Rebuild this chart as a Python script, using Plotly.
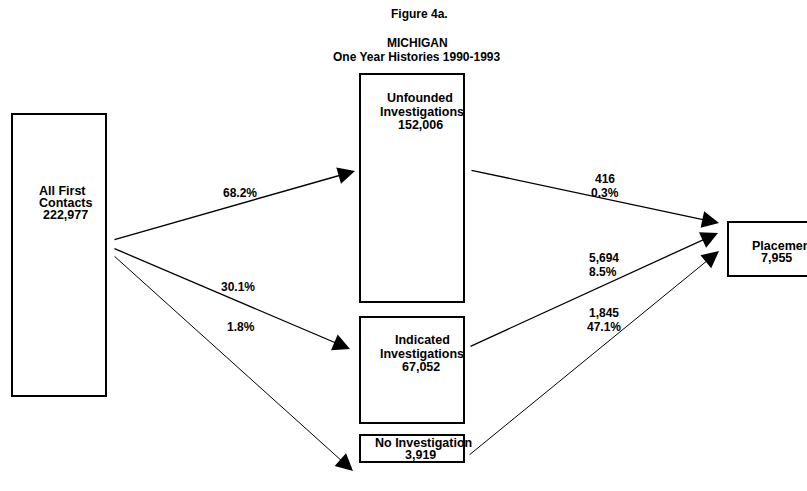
import plotly.graph_objects as go

# ---- data ----
node_names = ["All First Contacts", "Unfounded Investigations", "Indicated Investigations",
              "No Investigation", "Placement"]
node_counts = ["222,977", "152,006", "67,052", "3,919", "7,955"]
flow_pct_from_contacts = ["68.2%", "30.1%", "1.8%"]
flow_counts_to_placement = ["416", "5,694", "1,845"]
flow_pct_to_placement = ["0.3%", "8.5%", "47.1%"]

# ---- layout (pixel-like coordinates) ----
W, H = 807, 491
boxes = [(12, 114, 106, 396), (360, 74, 464, 302), (360, 317, 464, 423),
         (360, 435, 464, 462), (728, 222, 840, 276)]
node_lines = [
    (["All First", "Contacts"], [(62, 191), (66, 203)], (65, 215)),
    (["Unfounded", "Investigations"], [(420, 98), (422, 112)], (420, 125)),
    (["Indicated", "Investigations"], [(422, 340), (422, 354)], (421, 367)),
    (["No Investigation"], [(423, 443)], (420, 455)),
    (["Placement"], [(783, 246)], (776, 258)),
]
arrows_left = [((113, 240), (355, 171), 1.4), ((113, 248), (350, 349), 1.3), ((113, 255), (353, 471), 1.0)]
arrows_right = [((470, 170), (719, 223), 1.3), ((469, 347), (718, 233), 1.3), ((468, 456), (719, 251), 1.0)]
pct_left_pos = [(240, 193), (238, 287), (241, 327)]
right_lbl_pos = [((605, 179), (605, 193)), ((604, 258), (603, 272)), ((604, 313), (604, 327))]

FONT = dict(family="Arial, Liberation Sans, sans-serif", size=12, color="black", weight="bold")

fig = go.Figure()
fig.add_trace(go.Scatter(x=[0, W], y=[0, H], mode="markers", marker=dict(opacity=0),
                         hoverinfo="skip", showlegend=False))

for (x0, y0, x1, y1) in boxes:
    fig.add_shape(type="rect", x0=x0, y0=y0, x1=x1, y1=y1, xref="x", yref="y",
                  line=dict(color="black", width=2), fillcolor="rgba(0,0,0,0)")

def txt(x, y, s, size=12):
    f = dict(FONT)
    f["size"] = size
    fig.add_annotation(x=x, y=y, xref="x", yref="y", text=s, showarrow=False,
                       font=f, xanchor="center", yanchor="middle")

for i, (lines, pos, cpos) in enumerate(node_lines):
    for s, (x, y) in zip(lines, pos):
        txt(x, y, s, 12.5)
    txt(cpos[0], cpos[1], node_counts[i], 12.5)

def arrow(start, tip, w):
    head_len = 17.0
    fig.add_annotation(x=tip[0], y=tip[1], ax=start[0], ay=start[1], xref="x", yref="y",
                       axref="x", ayref="y", text="", showarrow=True, arrowhead=2,
                       arrowwidth=w, arrowsize=head_len / (5.0 * w), arrowcolor="black",
                       standoff=0, startstandoff=0)

for s, t, w in arrows_left:
    arrow(s, t, w)
for s, t, w in arrows_right:
    arrow(s, t, w)

for s, (x, y) in zip(flow_pct_from_contacts, pct_left_pos):
    txt(x, y, s)
for c, p, (pc, pp) in zip(flow_counts_to_placement, flow_pct_to_placement, right_lbl_pos):
    txt(pc[0], pc[1], c)
    txt(pp[0], pp[1], p)

txt(419, 14, "Figure 4a.", 12)
txt(417, 43, "MICHIGAN", 12)
txt(417, 57, "One Year Histories 1990-1993", 12)

fig.update_layout(
    width=W, height=H, margin=dict(l=0, r=0, t=0, b=0),
    paper_bgcolor="white", plot_bgcolor="white", showlegend=False,
    xaxis=dict(range=[0, W], visible=False, fixedrange=True),
    yaxis=dict(range=[H, 0], visible=False, fixedrange=True),
)
fig.write_html("out.html", config={"displayModeBar": False},
               post_script="document.body.style.margin='0';document.body.style.padding='0';"
                           "document.body.style.overflow='hidden';")
